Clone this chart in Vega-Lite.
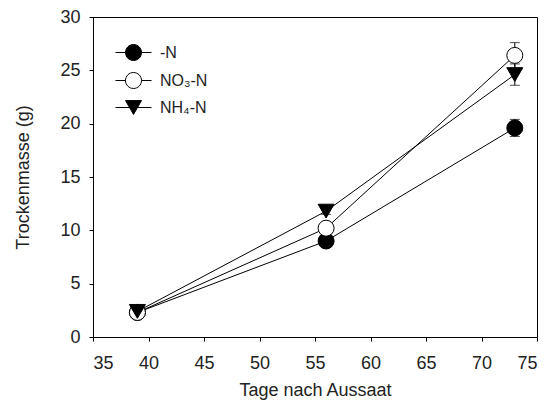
{
  "$schema": "https://vega.github.io/schema/vega-lite/v6.json",
  "width": 444,
  "height": 320,
  "autosize": "none",
  "padding": {"left": 93, "top": 17, "right": 23, "bottom": 64},
  "background": "white",
  "config": {
    "font": "Liberation Sans",
    "view": {"stroke": "black", "strokeWidth": 1},
    "axis": {
      "domainColor": "black",
      "tickColor": "black",
      "labelColor": "#222",
      "titleColor": "#222",
      "labelFontSize": 18,
      "titleFontSize": 18,
      "titleFontWeight": "normal",
      "labelFont": "Liberation Sans",
      "titleFont": "Liberation Sans",
      "grid": false,
      "tickSize": 4
    }
  },
  "data": {
    "values": [
      {"series": "-N", "day": 39, "mass": 2.3, "lo": 2.1, "hi": 2.5},
      {"series": "-N", "day": 56, "mass": 9.0, "lo": 8.7, "hi": 9.3},
      {"series": "-N", "day": 73, "mass": 19.6, "lo": 18.8, "hi": 20.4},
      {"series": "NO₃-N", "day": 39, "mass": 2.3, "lo": 2.1, "hi": 2.5},
      {"series": "NO₃-N", "day": 56, "mass": 10.2, "lo": 9.8, "hi": 10.6},
      {"series": "NO₃-N", "day": 73, "mass": 26.4, "lo": 25.2, "hi": 27.6},
      {"series": "NH₄-N", "day": 39, "mass": 2.4, "lo": 2.2, "hi": 2.6},
      {"series": "NH₄-N", "day": 56, "mass": 11.8, "lo": 11.5, "hi": 12.1},
      {"series": "NH₄-N", "day": 73, "mass": 24.6, "lo": 23.6, "hi": 25.6}
    ]
  },
  "layer": [
    {
      "mark": {"type": "line", "color": "black", "strokeWidth": 1},
      "encoding": {
        "x": {
          "field": "day",
          "type": "quantitative",
          "scale": {"domain": [35, 75], "nice": false, "zero": false},
          "axis": {"values": [35, 40, 45, 50, 55, 60, 65, 70, 75], "title": "Tage nach Aussaat", "labelPadding": 13, "titlePadding": 9}
        },
        "y": {
          "field": "mass",
          "type": "quantitative",
          "title": "Trockenmasse (g)",
          "scale": {"domain": [0, 30], "nice": false},
          "axis": {"values": [0, 5, 10, 15, 20, 25, 30], "labelPadding": 9, "titlePadding": 27}
        },
        "detail": {"field": "series"}
      }
    },
    {
      "mark": {"type": "errorbar", "ticks": {"size": 10}, "color": "black"},
      "encoding": {
        "x": {"field": "day", "type": "quantitative"},
        "y": {"field": "lo", "type": "quantitative", "title": "Trockenmasse (g)"},
        "y2": {"field": "hi"},
        "detail": {"field": "series"}
      }
    },
    {
      "mark": {"type": "point", "filled": true, "stroke": "black", "strokeWidth": 1, "size": 256, "opacity": 1},
      "encoding": {
        "x": {"field": "day", "type": "quantitative"},
        "y": {"field": "mass", "type": "quantitative", "title": "Trockenmasse (g)"},
        "shape": {
          "field": "series",
          "type": "nominal",
          "scale": {"domain": ["-N", "NO₃-N", "NH₄-N"], "range": ["circle", "circle", "triangle-down"]},
          "legend": null
        },
        "fill": {
          "field": "series",
          "type": "nominal",
          "scale": {"domain": ["-N", "NO₃-N", "NH₄-N"], "range": ["black", "white", "black"]},
          "legend": null
        }
      }
    },
    {
      "mark": {"type": "point", "filled": false, "color": "black", "stroke": "black", "strokeWidth": 1, "size": 256, "opacity": 0},
      "encoding": {
        "x": {"field": "day", "type": "quantitative"},
        "y": {"field": "mass", "type": "quantitative", "title": "Trockenmasse (g)"},
        "shape": {
          "field": "series",
          "type": "nominal",
          "scale": {
            "domain": ["-N", "NO₃-N", "NH₄-N"],
            "range": [
              "M-2.25,0H-1M1,0H2.25M-1,0A1,1 0 1,0 1,0A1,1 0 1,0 -1,0Z",
              "M-2.25,0H-1M1,0H2.25M-1,0A1,1 0 1,0 1,0A1,1 0 1,0 -1,0Z",
              "M-2.25,0H-0.5M0.5,0H2.25M0,0.866L-1,-0.866L1,-0.866Z"
            ]
          },
          "legend": {
            "title": null,
            "orient": "none",
            "legendX": 32,
            "legendY": 27,
            "padding": 0,
            "symbolSize": 256,
            "labelFontSize": 16,
            "labelColor": "#222",
            "labelFont": "Liberation Sans",
            "labelOffset": 18,
            "rowPadding": 7,
            "symbolStrokeColor": "black",
            "symbolStrokeWidth": 1,
            "symbolOpacity": 1,
            "encode": {"symbols": {"update": {"stroke": {"value": "black"}, "strokeWidth": {"value": 1}, "opacity": {"value": 1}}}}
          }
        },
        "fill": {
          "field": "series",
          "type": "nominal",
          "scale": {"domain": ["-N", "NO₃-N", "NH₄-N"], "range": ["black", "white", "black"]},
          "legend": {
            "title": null,
            "orient": "none",
            "legendX": 32,
            "legendY": 27,
            "padding": 0,
            "symbolSize": 256,
            "labelFontSize": 16,
            "labelColor": "#222",
            "labelFont": "Liberation Sans",
            "labelOffset": 18,
            "rowPadding": 7,
            "symbolStrokeColor": "black",
            "symbolStrokeWidth": 1,
            "symbolOpacity": 1,
            "encode": {"symbols": {"update": {"stroke": {"value": "black"}, "strokeWidth": {"value": 1}, "opacity": {"value": 1}}}}
          }
        }
      }
    }
  ],
  "resolve": {"scale": {"shape": "independent", "fill": "independent"}, "legend": {"shape": "independent", "fill": "independent"}}
}
